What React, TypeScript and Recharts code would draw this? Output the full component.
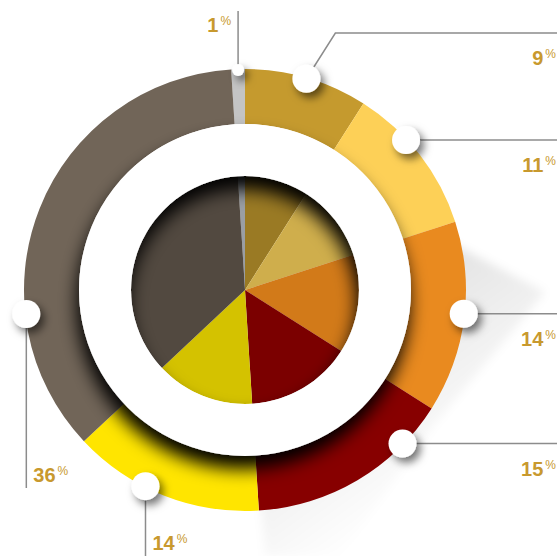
import React from "react";
import { PieChart, Pie, Cell } from "recharts";

// share of each segment, clockwise from the top
const shares = [1, 9, 11, 14, 15, 14, 36];
const segmentNames = ["Grey", "Bronze", "Gold", "Orange", "Crimson", "Yellow", "Taupe"];

const ringColors = ["#c4c4c4", "#c59a2e", "#fdd057", "#e98a1f", "#870000", "#ffe500", "#716558"];
const coreColors = ["#9a9ea3", "#9a7a24", "#cfae4c", "#d27a19", "#7b0000", "#d4c200", "#524940"];

const W = 557;
const H = 556;
const CX = 245;
const CY = 290;
const START = 93.6;
const RADIAN = Math.PI / 180;
const LABEL_COLOR = "#c8992e";
const LINE_COLOR = "#8c8c8c";

const data = shares.map((v, i) => ({ name: segmentNames[i], value: v }));
const disc = [{ name: "disc", value: 1 }];
const total = shares.reduce((s, v) => s + v, 0);

// where the marker sits inside its segment and how its leader runs
const callouts = [
  { at: 0.5, dot: 6, kind: "up", to: 11 },
  { at: 0.5, dot: 14, kind: "elbow", to: 33 },
  { at: 0.37, dot: 14, kind: "right", to: 0 },
  { at: 0.48, dot: 14, kind: "right", to: 0 },
  { at: 0.22, dot: 14, kind: "right", to: 0 },
  { at: 0.605, dot: 14, kind: "down", to: 556 },
  { at: 0.285, dot: 14, kind: "down", to: 488 },
];

const renderCallout = (props: any) => {
  const { cx, cy, outerRadius, index, value } = props;
  const c = callouts[index];
  const before = shares.slice(0, index).reduce((s, v) => s + v, 0);
  const a = START - (360 * (before + shares[index] * c.at)) / total;
  const r = outerRadius - 1;
  const x = cx + r * Math.cos(-a * RADIAN);
  const y = cy + r * Math.sin(-a * RADIAN);

  let d = "";
  let tx = 0;
  let ty = 0;
  let anchor: "start" | "end" = "end";
  if (c.kind === "up") {
    d = `M${x},${y} V${c.to}`;
    tx = x - 7;
    ty = c.to + 21;
  } else if (c.kind === "elbow") {
    d = `M${x},${y} L${x + 29},${c.to} H${W}`;
    tx = W - 1;
    ty = c.to + 32;
  } else if (c.kind === "right") {
    d = `M${x},${y} H${W}`;
    tx = W - 1;
    ty = y + 32;
  } else {
    d = `M${x},${y} V${c.to}`;
    tx = x + 7;
    ty = c.to - 6;
    anchor = "start";
  }

  return (
    <g key={`callout-${index}`}>
      <path d={d} stroke={LINE_COLOR} strokeWidth={1.5} fill="none" />
      <circle cx={x} cy={y} r={c.dot} fill="#fff" filter="url(#dotShadow)" />
      <text
        x={tx}
        y={ty}
        textAnchor={anchor}
        fill={LABEL_COLOR}
        fontFamily="'Liberation Sans', Arial, sans-serif"
        fontWeight={600}
        fontSize={20}
      >
        <tspan>{value}</tspan>
        <tspan fontSize={12} dx={2} dy={-7} fontWeight={400}>%</tspan>
      </text>
    </g>
  );
};

export default function App() {
  return (
    <div style={{ position: "absolute", left: 0, top: 0, width: W, height: H, background: "#fff" }}>
      <PieChart width={W} height={H} margin={{ top: 0, right: 0, bottom: 0, left: 0 }}>
        <defs>
          <filter id="dotShadow" x="-100%" y="-100%" width="300%" height="300%">
            <feDropShadow dx={4} dy={5} stdDeviation={4} floodColor="#000" floodOpacity={0.55} />
          </filter>
          <filter id="discShadow" x="-30%" y="-30%" width="160%" height="160%">
            <feDropShadow dx={-2} dy={13} stdDeviation={9} floodColor="#000" floodOpacity={1} />
          </filter>
          <filter id="soften" x="-20%" y="-20%" width="140%" height="140%">
            <feGaussianBlur stdDeviation={5} />
          </filter>
          <linearGradient id="castShade" gradientUnits="userSpaceOnUse" x1={390} y1={250} x2={520} y2={430}>
            <stop offset="0" stopColor="#000" stopOpacity={0.13} />
            <stop offset="1" stopColor="#000" stopOpacity={0} />
          </linearGradient>
        </defs>

        {/* inner pie */}
        <Pie
          data={data}
          dataKey="value"
          cx={CX}
          cy={CY}
          innerRadius={0}
          outerRadius={114}
          startAngle={START}
          endAngle={START - 360}
          stroke="none"
          isAnimationActive={false}
        >
          {data.map((d, i) => (
            <Cell key={d.name} fill={coreColors[i]} />
          ))}
        </Pie>

        {/* outer ring */}
        <Pie
          data={data}
          dataKey="value"
          cx={CX}
          cy={CY}
          innerRadius={166}
          outerRadius={221}
          startAngle={START}
          endAngle={START - 360}
          stroke="none"
          isAnimationActive={false}
        >
          {data.map((d, i) => (
            <Cell key={d.name} fill={ringColors[i]} />
          ))}
        </Pie>

        {/* faint long shadow towards the lower right */}
        <path
          d="M245,290 L392,212 L545,292 L430,430 L340,556 L265,556 Z"
          fill="url(#castShade)"
          filter="url(#soften)"
        />

        {/* white disc between ring and pie */}
        <Pie
          data={disc}
          dataKey="value"
          cx={CX}
          cy={CY}
          innerRadius={114}
          outerRadius={166}
          startAngle={90}
          endAngle={-270}
          stroke="none"
          isAnimationActive={false}
        >
          <Cell fill="#fff" filter="url(#discShadow)" />
        </Pie>

        {/* markers, leaders and percentages */}
        <Pie
          data={data}
          dataKey="value"
          cx={CX}
          cy={CY}
          innerRadius={166}
          outerRadius={221}
          startAngle={START}
          endAngle={START - 360}
          fill="none"
          stroke="none"
          labelLine={false}
          label={renderCallout}
          isAnimationActive={false}
        />
      </PieChart>
    </div>
  );
}
